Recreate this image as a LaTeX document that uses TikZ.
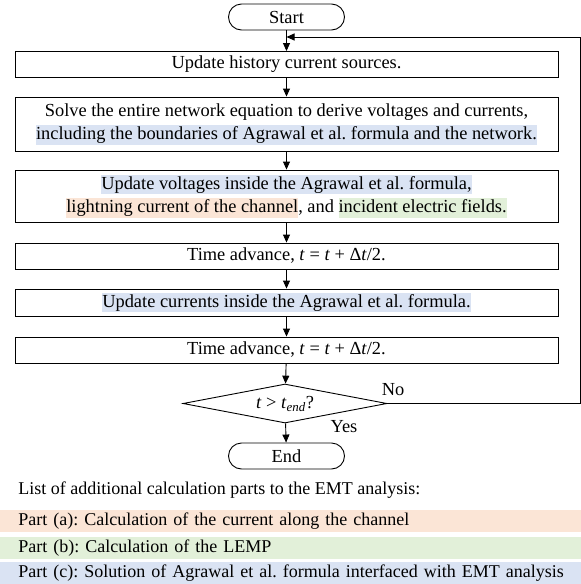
\documentclass[tikz,border=0pt]{standalone}
\usepackage{fontspec}
\setmainfont{Liberation Serif}
\usetikzlibrary{shapes.geometric,arrows.meta}
\definecolor{hlblue}{HTML}{DAE3F3}
\definecolor{hlorange}{HTML}{FBE5D6}
\definecolor{hlgreen}{HTML}{E2F0D9}
\newcommand{\hlt}[2]{{\setlength{\fboxsep}{0pt}\colorbox{#1}{\vrule height 14.5pt depth 5pt width 0pt #2}}}
\frenchspacing
\begin{document}
\begin{tikzpicture}[x=1pt,y=-1pt,
  font=\fontsize{18.4}{23.5}\selectfont\frenchspacing,
  every path/.style={line width=0.9pt},
  term/.style={draw, rounded corners=13pt, minimum width=116pt, minimum height=26pt, inner sep=0pt},
  stepbox/.style={draw, minimum width=543pt, align=center, inner sep=0pt},
  decide/.style={draw, diamond, minimum width=204pt, minimum height=39pt, inner sep=0pt, aspect=5},
  arr/.style={-{Triangle[length=8pt,width=7pt]}},
  bar/.style={minimum width=581pt, minimum height=22pt, inner sep=0pt, text width=581pt, align=left, anchor=west, font=\fontsize{18}{22}\selectfont\frenchspacing}
]
\useasboundingbox (0,0) rectangle (581,584);
\node[term] (start) at (286.5,17) {Start};
\node[stepbox, minimum height=26pt] (b1) at (286.5,64.5) {Update history current sources.};
\node[stepbox, minimum height=54pt] (b2) at (286.5,124) {Solve the entire network equation to derive voltages and currents,\\ \hlt{hlblue}{including the boundaries of Agrawal et al. formula and the network.}};
\node[stepbox, minimum height=52pt] (b3) at (286.5,196) {\hlt{hlblue}{Update voltages inside the Agrawal et al. formula,}\\ \hlt{hlorange}{lightning current of the channel}, and \hlt{hlgreen}{incident electric fields.}};
\node[stepbox, minimum height=26pt] (b4) at (286.5,256) {Time advance, \textit{t} = \textit{t} + Δ\textit{t}/2.};
\node[stepbox, minimum height=27pt] (b5) at (286.5,302.5) {\hlt{hlblue}{Update currents inside the Agrawal et al. formula.}};
\node[stepbox, minimum height=26pt] (b6) at (286.5,350) {Time advance, \textit{t} = \textit{t} + Δ\textit{t}/2.};
\node[decide] (dec) at (285,403.5) {\textit{t} > \textit{t}\textsubscript{\textit{end}}?};
\node[term] (end) at (286.5,456) {End};
\coordinate (j) at (286.5,37);
\draw[arr] (start) -- (b1);
\draw[arr] (b1) -- (b2);
\draw[arr] (b2) -- (b3);
\draw[arr] (b3) -- (b4);
\draw[arr] (b4) -- (b5);
\draw[arr] (b5) -- (b6);
\draw[arr] (b6) -- (dec);
\draw[arr] (dec) -- (end);
\draw[arr] (dec.east) -- ++(193,0) |- (j);
\node (no) at (393,390) {No};
\node (yes) at (344,427) {Yes};
\node[anchor=west, inner sep=0pt, font=\fontsize{18}{22}\selectfont\frenchspacing] (list) at (18,490) {List of additional calculation parts to the EMT analysis:};
\node[bar, fill=hlorange] (pa) at (0,521) {\hspace*{18pt}Part (a): Calculation of the current along the channel};
\node[bar, fill=hlgreen] (pb) at (0,548) {\hspace*{18pt}Part (b): Calculation of the LEMP};
\node[bar, fill=hlblue] (pc) at (0,573) {\hspace*{18pt}Part (c): Solution of Agrawal et al. formula interfaced with EMT analysis};
\end{tikzpicture}
\end{document}
